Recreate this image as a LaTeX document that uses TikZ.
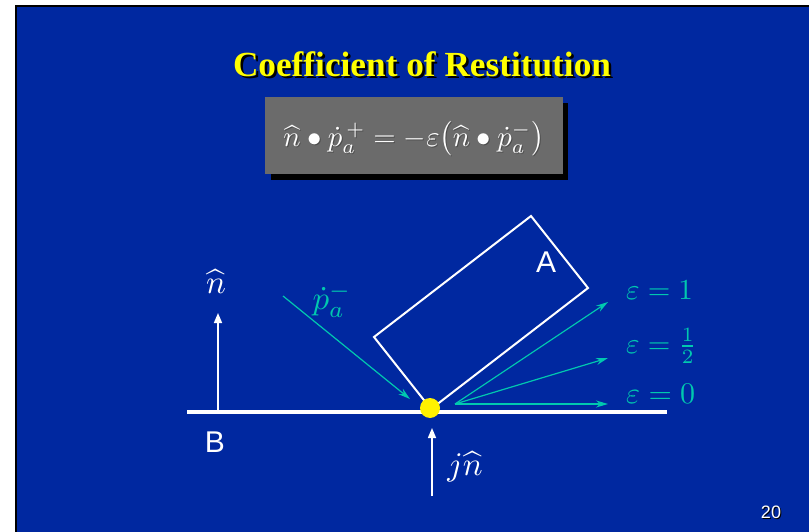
\documentclass[tikz,border=0pt]{standalone}
\usepackage{fontspec}
\setmainfont{Liberation Serif}
\setsansfont{Liberation Sans}
\usetikzlibrary{arrows.meta}
\definecolor{slideblue}{RGB}{0,40,160}
\definecolor{boxgray}{RGB}{107,107,107}
\definecolor{teal2}{RGB}{0,200,175}
\definecolor{titleyellow}{RGB}{255,255,0}
\newcommand{\bigmath}[2]{\scalebox{#1}{$#2$}}
\tikzset{
  whitearrow/.style={draw=white, line width=1.5pt, -{Triangle[length=10pt,width=8pt]}},
  cyanarrow/.style={draw=teal2, line width=1.2pt, -{Stealth[length=12pt,width=7pt]}},
  sanslabel/.style={text=white, font=\sffamily\fontsize{30}{30}\selectfont, inner sep=0pt},
  mathlabel/.style={inner sep=0pt},
  epslabel/.style={text=teal2, anchor=west, inner sep=0pt},
}
\begin{document}
\begin{tikzpicture}[x=1pt,y=-1pt]
\useasboundingbox (0,0) rectangle (809,532);
\fill[white] (0,0) rectangle (809,532);
\fill[black] (15,5) rectangle (809,532);
\fill[slideblue] (17,7) rectangle (809,532);
% title
\node[text=black, inner sep=0pt] (titleshadow) at (424.5,66.5) {\resizebox{378pt}{!}{\fontsize{35}{35}\selectfont\bfseries Coefficient of Restitution}};
\node[text=titleyellow, inner sep=0pt] (title) at (422,64) {\resizebox{378pt}{!}{\fontsize{35}{35}\selectfont\bfseries Coefficient of Restitution}};
% equation box
\fill[black] (271,103) rectangle (568,180);
\node[fill=boxgray, minimum width=298pt, minimum height=77pt, inner sep=0pt] (eqbox) at (414,135.5) {};
\node[text=black!70, inner sep=0pt] (eqshadow) at (415,140) {\resizebox{261pt}{!}{$\widehat{n}\bullet\dot{p}_a^{\,+} = -\varepsilon\bigl(\widehat{n}\bullet\dot{p}_a^{-}\bigr)$}};
\node[text=white, inner sep=0pt] (eq) at (414,139) {\resizebox{261pt}{!}{$\widehat{n}\bullet\dot{p}_a^{\,+} = -\varepsilon\bigl(\widehat{n}\bullet\dot{p}_a^{-}\bigr)$}};
% body A
\coordinate (T) at (531,216);
\coordinate (R) at (588,288);
\coordinate (Bc) at (431,409);
\coordinate (L) at (374,337);
\draw[white, line width=2pt, line join=miter] (T) -- (R) -- (Bc) -- (L) -- cycle;
% ground B
\coordinate (g1) at (187,412);
\coordinate (g2) at (667,412);
\draw[white, line width=4.5pt] (g1) -- (g2);
% contact point
\node[circle, fill=yellow, minimum size=20pt, inner sep=0pt] (contact) at (430,408) {};
% labels
\node[sanslabel] (labA) at (546,262) {A};
\node[sanslabel] (labB) at (215,442) {B};
% normal
\coordinate (nbase) at (218,410);
\coordinate (ntip) at (218,313);
\draw[whitearrow] (nbase) -- (ntip);
\node[mathlabel, text=white] (nhat) at (216,282) {\bigmath{3.3}{\widehat{n}}};
% impulse
\coordinate (jbase) at (432,496);
\coordinate (jtip) at (432,428);
\draw[whitearrow] (jbase) -- (jtip);
\node[mathlabel, text=white] (jn) at (465,467) {\bigmath{3.3}{j\widehat{n}}};
% incoming velocity
\coordinate (pstart) at (283,296);
\coordinate (pend) at (410,399);
\draw[cyanarrow] (pstart) -- (pend);
\node[mathlabel, text=teal2] (plab) at (332,300) {\bigmath{3.3}{\dot{p}_a^{-}}};
% outgoing velocities
\coordinate (o) at (455,404);
\coordinate (e1) at (608,302);
\coordinate (eh) at (608,358);
\coordinate (e0) at (608,404);
\draw[cyanarrow] (o) -- (e1);
\draw[cyanarrow] (o) -- (eh);
\draw[cyanarrow] (o) -- (e0);
\node[epslabel] (l1) at (626,290) {\bigmath{2.9}{\varepsilon = 1}};
\node[epslabel] (lh) at (626,346) {\bigmath{2.9}{\varepsilon = \frac{1}{2}}};
\node[epslabel] (l0) at (626,394) {\bigmath{3.0}{\varepsilon = 0}};
% page number
\node[text=black, inner sep=0pt, font=\sffamily\fontsize{18}{18}\selectfont] (pgs) at (772,513) {20};
\node[text=white, inner sep=0pt, font=\sffamily\fontsize{18}{18}\selectfont] (pg) at (771,512) {20};
\end{tikzpicture}
\end{document}
